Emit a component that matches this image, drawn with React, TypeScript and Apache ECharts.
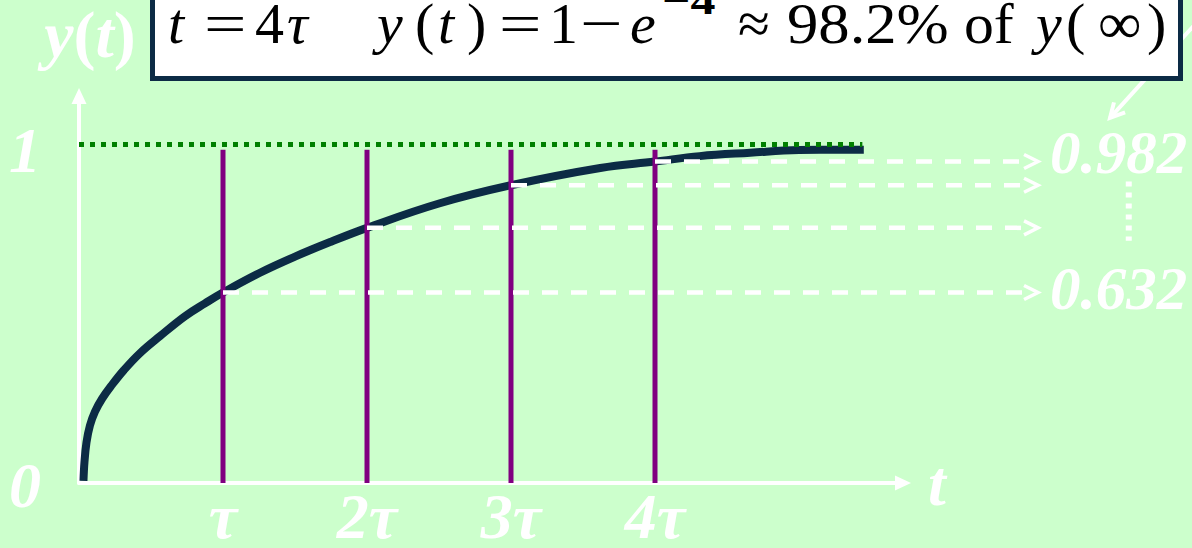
import React, { useEffect, useRef } from 'react';
import * as echarts from 'echarts';

// ---- data (t in units of tau, y normalised to y(inf) = 1) ----
const curveT = [0.031, 0.038, 0.052, 0.076, 0.111, 0.16, 0.229, 0.3125, 0.424, 0.5625, 0.736, 0.875, 1.0, 1.25, 1.5, 1.75, 2.0, 2.5, 3.0, 3.62, 4.0, 4.31, 4.66, 5.0, 5.45];
const curveY = [0.006, 0.062, 0.12, 0.17, 0.211, 0.249, 0.29, 0.334, 0.384, 0.434, 0.493, 0.531, 0.563, 0.62, 0.669, 0.713, 0.754, 0.826, 0.88, 0.931, 0.95, 0.966, 0.976, 0.984, 0.985];
const tauMarks = [1, 2, 3, 4];
const tickLabels = ['τ', '2τ', '3τ', '4τ'];
const levelValues = [0.563, 0.754, 0.88, 0.95];
const markerTop = 0.985;
const limitT = [0, 5.44];
const limitY = [1, 1];
const sideLabels = ['0.982', '0.632'];
const gapDots = [7.29, 0.891, 0.716];
const callout = [7.785, 1.372, 7.16, 1.079];
const arrowEndT = 6.66;

const FONT = '"Liberation Serif", "Times New Roman", Times, serif';
const WHITE = '#ffffff';
const NAVY = '#0c2b45';

const labelStyle = {
  fontFamily: FONT,
  fontSize: 64,
  fontWeight: 'bold',
  fontStyle: 'italic',
  color: WHITE,
};

// tokens of the formula box (text, left x, kind, scaleX)
const boxTokens: [string, number, string, number][] = [
  ['t', 168, 'i', 1],
  ['=', 204, 'n', 1.3],
  ['4', 255, 'n', 1],
  ['τ', 287, 'i', 1],
  ['y', 377, 'i', 1],
  ['(', 415, 'n', 1],
  ['t', 438, 'i', 1],
  [')', 467, 'n', 1],
  ['=', 499, 'n', 1.3],
  ['1', 549, 'n', 1],
  ['−', 580, 'n', 1.3],
  ['e', 630, 'i', 1],
  ['≈', 738, 'n', 1],
  ['98.2%', 787, 'n', 1.08],
  ['of', 964, 'n', 1.03],
  ['y', 1036, 'i', 1],
  ['(', 1066, 'n', 1],
  ['∞', 1098, 'n', 1.05],
  [')', 1147, 'n', 1],
];

function buildOption(): any {
  const boxFont = 58;
  const boxY = 43 - 0.3375 * boxFont;
  const graphics: any[] = [
    {
      type: 'rect',
      z: 100,
      shape: { x: 152.5, y: -20, width: 1028, height: 98.5 },
      style: { fill: '#ffffff', stroke: NAVY, lineWidth: 5 },
    },
  ];
  boxTokens.forEach(([text, x, kind, sx]) => {
    graphics.push({
      type: 'text',
      z: 101,
      x,
      y: boxY,
      scaleX: sx,
      style: {
        text,
        x: 0,
        y: 0,
        fill: '#000000',
        font: `${kind === 'i' ? 'italic ' : ''}${boxFont}px ${FONT}`,
        textAlign: 'left',
        textVerticalAlign: 'middle',
      },
    });
  });
  graphics.push({
    type: 'text',
    z: 101,
    x: 662,
    y: 14 - 0.3375 * 40,
    scaleX: 1.25,
    style: {
      text: '−4',
      x: 0,
      y: 0,
      fill: '#000000',
      font: `bold 40px ${FONT}`,
      textAlign: 'left',
      textVerticalAlign: 'middle',
    },
  });
  const sideY = [152, 288];
  sideLabels.forEach((s, i) => {
    graphics.push({
      type: 'text',
      z: 101,
      x: 1050,
      y: sideY[i],
      style: {
        text: s,
        x: 0,
        y: 0,
        fill: WHITE,
        font: `italic bold 61px ${FONT}`,
        textAlign: 'left',
        textVerticalAlign: 'middle',
      },
    });
  });

  const xMax = (903 - 79) / 144;
  const yMax = (486 - 96) / 341;

  return {
    animation: false,
    backgroundColor: '#ccffcc',
    grid: { left: 79, right: 1192 - 903, top: 96, bottom: 548 - 486, containLabel: false },
    xAxis: {
      type: 'value',
      min: 0,
      max: xMax,
      interval: 1,
      name: 't',
      nameLocation: 'end',
      nameGap: 25,
      nameTextStyle: { ...labelStyle, padding: [14, 0, 0, 0] },
      axisLine: {
        show: true,
        onZero: true,
        symbol: ['none', 'triangle'],
        symbolSize: [15, 16],
        lineStyle: { color: WHITE, width: 4 },
      },
      axisTick: { show: false },
      splitLine: { show: false },
      axisLabel: {
        ...labelStyle,
        fontSize: 64,
        lineHeight: 52,
        margin: 7,
        showMinLabel: true,
        showMaxLabel: true,
        formatter: (v: number) => {
          const r = Math.round(v);
          if (Math.abs(v - r) > 1e-6) return '';
          const idx = tauMarks.indexOf(r);
          return idx >= 0 ? tickLabels[idx] : '';
        },
      },
    },
    yAxis: {
      type: 'value',
      min: 0,
      max: yMax,
      interval: 1,
      name: '{a|y}{b|(}{a|t}{b|)}',
      nameLocation: 'end',
      nameGap: 29,
      nameTextStyle: {
        padding: [0, 0, 0, 22],
        rich: {
          a: { ...labelStyle, fontSize: 66 },
          b: { ...labelStyle, fontSize: 66, fontStyle: 'normal' },
        },
      },
      axisLine: {
        show: true,
        symbol: ['none', 'triangle'],
        symbolSize: [15, 16],
        lineStyle: { color: WHITE, width: 4 },
      },
      axisTick: { show: false },
      splitLine: { show: false },
      axisLabel: {
        margin: 38,
        formatter: (v: number) => {
          if (Math.abs(v) < 1e-9) return '{z|0}';
          if (Math.abs(v - 1) < 1e-9) return '{o|1}';
          return '';
        },
        rich: {
          z: { ...labelStyle, padding: [4, 0, 0, 0] },
          o: { ...labelStyle, padding: [12, 0, 0, 0] },
        },
      },
    },
    series: [
      {
        name: 'y(t)',
        type: 'line',
        z: 2,
        data: curveT.map((t, i) => [t, curveY[i]]),
        smooth: 0.4,
        symbol: 'none',
        showSymbol: false,
        lineStyle: { color: NAVY, width: 8, cap: 'butt' },
        silent: true,
      },
      {
        name: 'limit',
        type: 'line',
        z: 2,
        data: limitT.map((t, i) => [t, limitY[i]]),
        symbol: 'none',
        showSymbol: false,
        lineStyle: { color: '#008000', width: 5, type: [5, 6] },
        silent: true,
      },
      {
        name: 'tau',
        type: 'custom',
        z: 3,
        silent: true,
        data: tauMarks.map((t) => [t, markerTop]),
        renderItem: (_p: any, api: any) => {
          const t = api.value(0);
          const top = api.coord([t, api.value(1)]);
          const bot = api.coord([t, 0]);
          return {
            type: 'line',
            shape: { x1: top[0], y1: top[1], x2: bot[0], y2: bot[1] },
            style: { stroke: '#800080', lineWidth: 5 },
          };
        },
      },
      {
        name: 'levels',
        type: 'custom',
        z: 4,
        silent: true,
        data: tauMarks.map((t, i) => [t, levelValues[i]]),
        renderItem: (_p: any, api: any) => {
          const s = api.coord([api.value(0), api.value(1)]);
          const e = api.coord([arrowEndT, api.value(1)]);
          const y = s[1];
          const tip = e[0];
          return {
            type: 'group',
            children: [
              {
                type: 'line',
                shape: { x1: s[0], y1: y, x2: tip - 13, y2: y },
                style: { stroke: WHITE, lineWidth: 4.5, lineDash: [16, 13] },
              },
              {
                type: 'polyline',
                shape: { points: [[tip - 14, y - 7], [tip, y], [tip - 14, y + 7]] },
                style: { stroke: WHITE, lineWidth: 3.5, fill: 'none' },
              },
            ],
          };
        },
      },
      {
        name: 'gap',
        type: 'custom',
        z: 4,
        silent: true,
        data: [gapDots],
        renderItem: (_p: any, api: any) => {
          const a = api.coord([api.value(0), api.value(1)]);
          const b = api.coord([api.value(0), api.value(2)]);
          return {
            type: 'line',
            shape: { x1: a[0], y1: a[1], x2: b[0], y2: b[1] },
            style: { stroke: WHITE, lineWidth: 6, lineDash: [5, 6] },
          };
        },
      },
      {
        name: 'callout',
        type: 'custom',
        z: 4,
        silent: true,
        data: [callout],
        renderItem: (_p: any, api: any) => {
          const a = api.coord([api.value(0), api.value(1)]);
          const b = api.coord([api.value(2), api.value(3)]);
          const dx = a[0] - b[0];
          const dy = a[1] - b[1];
          const len = Math.sqrt(dx * dx + dy * dy);
          const ux = dx / len;
          const uy = dy / len;
          const ang = (28 * Math.PI) / 180;
          const L = 16;
          const arm = (sgn: number) => {
            const c = Math.cos(sgn * ang);
            const s = Math.sin(sgn * ang);
            return [b[0] + L * (ux * c - uy * s), b[1] + L * (ux * s + uy * c)];
          };
          return {
            type: 'group',
            children: [
              {
                type: 'line',
                shape: { x1: a[0], y1: a[1], x2: b[0], y2: b[1] },
                style: { stroke: WHITE, lineWidth: 4 },
              },
              {
                type: 'polyline',
                shape: { points: [arm(1), [b[0], b[1]], arm(-1)] },
                style: { stroke: WHITE, lineWidth: 4, fill: 'none' },
              },
            ],
          };
        },
      },
    ],
    graphic: graphics,
  };
}

export default function App() {
  const ref = useRef<HTMLDivElement>(null);
  useEffect(() => {
    if (!ref.current) return;
    const chart = echarts.init(ref.current, undefined, { renderer: 'svg' });
    chart.setOption(buildOption());
    return () => chart.dispose();
  }, []);
  return (
    <div
      ref={ref}
      style={{ position: 'absolute', left: 0, top: 0, width: 1192, height: 548, background: '#ccffcc' }}
    />
  );
}
